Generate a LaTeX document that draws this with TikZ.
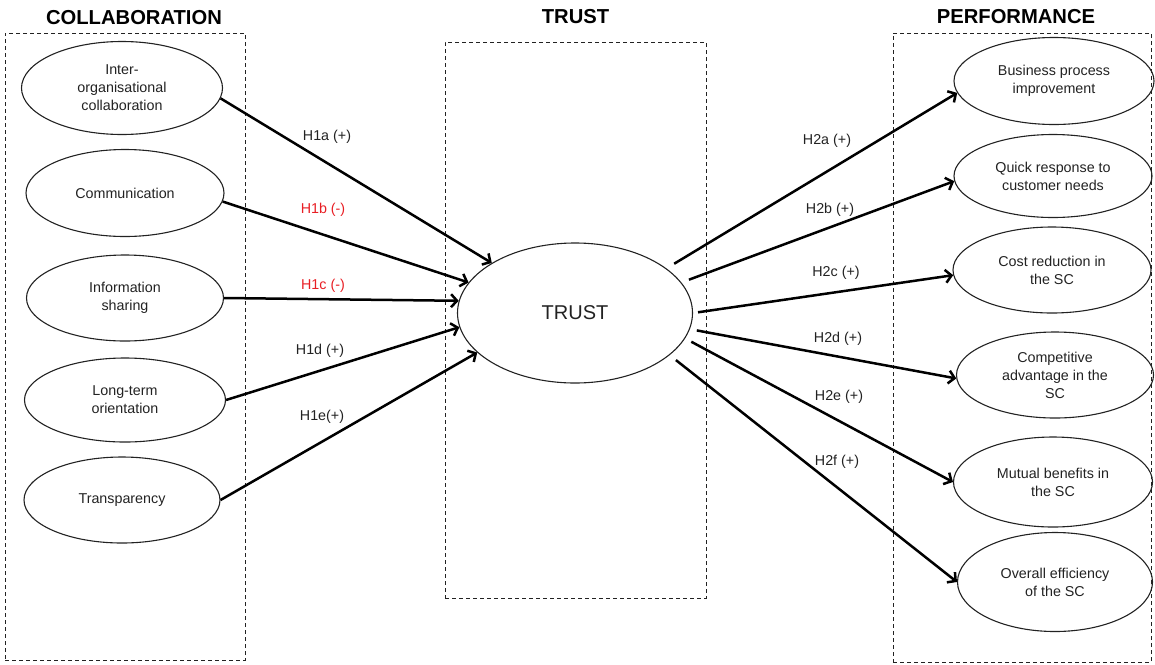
\documentclass[tikz,border=0pt]{standalone}
\usepackage{fontspec}
\setmainfont{Liberation Sans}
\usetikzlibrary{shapes.geometric,arrows.meta}
\definecolor{txt}{RGB}{34,34,34}
\definecolor{hred}{RGB}{232,30,36}
\begin{document}
\begin{tikzpicture}[x=1pt,y=-1pt,
  every node/.style={font=\fontsize{14.3}{18}\selectfont, text=txt},
  oval/.style={draw=txt, line width=1.1pt, ellipse, minimum width=200pt, minimum height=88pt, inner sep=0pt, align=center},
  grp/.style={draw=txt, line width=0.9pt, dash pattern=on 4pt off 3pt, inner sep=0pt},
  title/.style={font=\fontsize{20.2}{24}\selectfont\bfseries, text=black},
  arr/.style={line width=2.5pt, -{Straight Barb[length=6pt,width=13pt]}},
  lab/.style={font=\fontsize{14.3}{16}\selectfont},
  neg/.style={lab, text=hred}]
\useasboundingbox (0,0) rectangle (1155,664);

% group frames
\node[grp, minimum width=240pt, minimum height=627pt] (gL) at (125,346.5) {};
\node[grp, minimum width=261pt, minimum height=556pt] (gC) at (575.5,320) {};
\node[grp, minimum width=258pt, minimum height=629pt] (gR) at (1022,347.5) {};

% titles
\node[title] (tL) at (134,18) {COLLABORATION};
\node[title] (tC) at (575.5,16.5) {TRUST};
\node[title] (tR) at (1016,17) {PERFORMANCE};

% left ellipses
\node[oval, minimum width=201pt, minimum height=93pt] (l1) at (122,88) {Inter-\\organisational\\collaboration};
\node[oval, minimum width=198pt, minimum height=87pt] (l2) at (125,193) {Communication};
\node[oval, minimum width=197pt, minimum height=86pt] (l3) at (125,298) {Information\\sharing};
\node[oval, minimum width=201pt, minimum height=84pt] (l4) at (125,400) {Long-term\\orientation};
\node[oval, minimum width=196pt, minimum height=86pt] (l5) at (122,500) {Transparency};

% central
\node[oval, minimum width=235pt, minimum height=140pt, font=\fontsize{20}{24}\selectfont] (trust) at (575,313) {TRUST};

% right ellipses
\node[oval, minimum width=200pt, minimum height=87pt] (r1) at (1054,81) {Business process\\improvement};
\node[oval, minimum width=198pt, minimum height=83pt] (r2) at (1053,176) {Quick response to\\customer needs};
\node[oval, minimum width=198pt, minimum height=86pt] (r3) at (1052,270) {Cost reduction in\\the SC};
\node[oval, minimum width=197pt, minimum height=86pt] (r4) at (1055,375) {Competitive\\advantage in the\\SC};
\node[oval, minimum width=199pt, minimum height=90pt] (r5) at (1053,482) {Mutual benefits in\\the SC};
\node[oval, minimum width=195pt, minimum height=99pt] (r6) at (1055,582) {Overall efficiency\\of the SC};

% left arrows
\draw[arr] (l1.-6) -- (trust.149.5);
\draw[arr] (l2.-5) -- (trust.164);
\draw[arr] (l3.0) -- (trust.174);
\draw[arr] (l4.0) -- (trust.187);
\draw[arr] (l5.0) -- (trust.202);

% right arrows
\draw[arr, shorten <=9pt] (trust.26) -- (r1.187);
\draw[arr, shorten <=8pt] (trust.16) -- (r2.183);
\draw[arr, shorten <=5pt] (trust.0) -- (r3.183);
\draw[arr, shorten <=7pt] (trust.-8) -- (r4.182);
\draw[arr, shorten <=7pt] (trust.-13) -- (r5.180);
\draw[arr, shorten <=8pt] (trust.-24) -- (r6.180);

% labels
\node[lab] (a1) at (327,137) {H1a (+)};
\node[neg] (a2) at (323,210) {H1b (-)};
\node[neg] (a3) at (323,286) {H1c (-)};
\node[lab] (a4) at (320,351) {H1d (+)};
\node[lab] (a5) at (322,417) {H1e(+)};
\node[lab] (b1) at (827,141) {H2a (+)};
\node[lab] (b2) at (830,210) {H2b (+)};
\node[lab] (b3) at (836,273) {H2c (+)};
\node[lab] (b4) at (838,339) {H2d (+)};
\node[lab] (b5) at (839,397) {H2e (+)};
\node[lab] (b6) at (837,462) {H2f (+)};
\end{tikzpicture}
\end{document}
